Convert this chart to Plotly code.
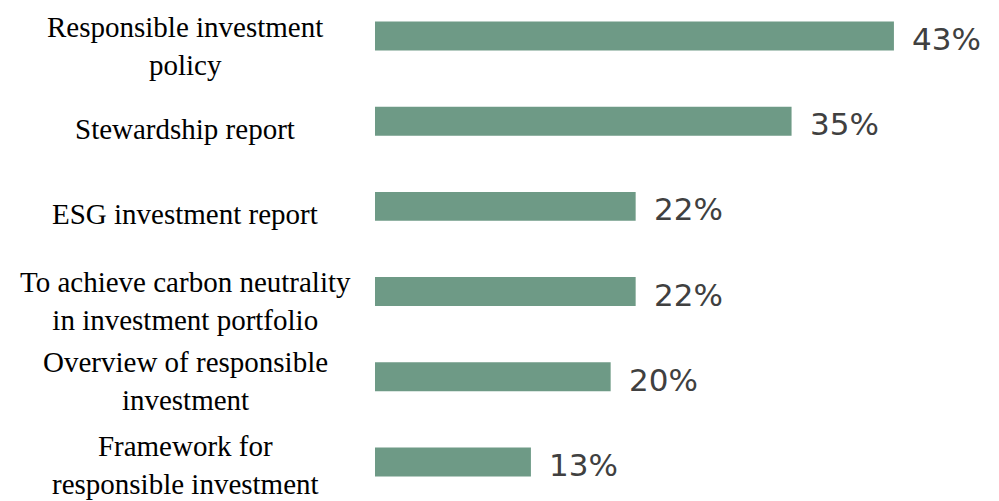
import plotly.graph_objects as go

categories = [
    "Responsible investment<br>policy",
    "Stewardship report",
    "ESG investment report",
    "To achieve carbon neutrality<br>in investment portfolio",
    "Overview of responsible<br>investment",
    "Framework for<br>responsible investment",
]
values = [43.6, 35.0, 21.9, 21.9, 19.8, 13.1]
value_labels = ["43%", "35%", "22%", "22%", "20%", "13%"]

bar_color = "#6E9A86"
label_color = "#404040"
# small vertical nudges for the category labels (px)
label_nudge = [-10, -8, -8, -9, -4, -3]

fig = go.Figure()
fig.add_trace(go.Bar(x=values, y=list(range(len(values))), orientation="h",
                     marker=dict(color=bar_color, line=dict(width=0)),
                     width=0.34, hoverinfo="skip"))

# value labels to the right of each bar
for i, (v, t) in enumerate(zip(values, value_labels)):
    fig.add_annotation(x=v, y=i, xref="x", yref="y", text=t, showarrow=False,
                       xanchor="left", xshift=16, yshift=-3,
                       font=dict(family="DejaVu Sans", size=31, color=label_color))

# category labels on the left, centred
for i, c in enumerate(categories):
    fig.add_annotation(x=-0.3006, y=i, xref="paper", yref="y", text=c, showarrow=False,
                       xanchor="center", align="center", yshift=label_nudge[i],
                       font=dict(family="Liberation Serif", size=29, color="black"))

fig.update_xaxes(range=[0, 53.1], visible=False)
fig.update_yaxes(range=[5.552, -0.3286], visible=False)

fig.update_layout(width=999, height=501, margin=dict(l=367, r=0, t=0, b=0),
                  plot_bgcolor="white", paper_bgcolor="white", showlegend=False)

fig.write_html("out.html")
